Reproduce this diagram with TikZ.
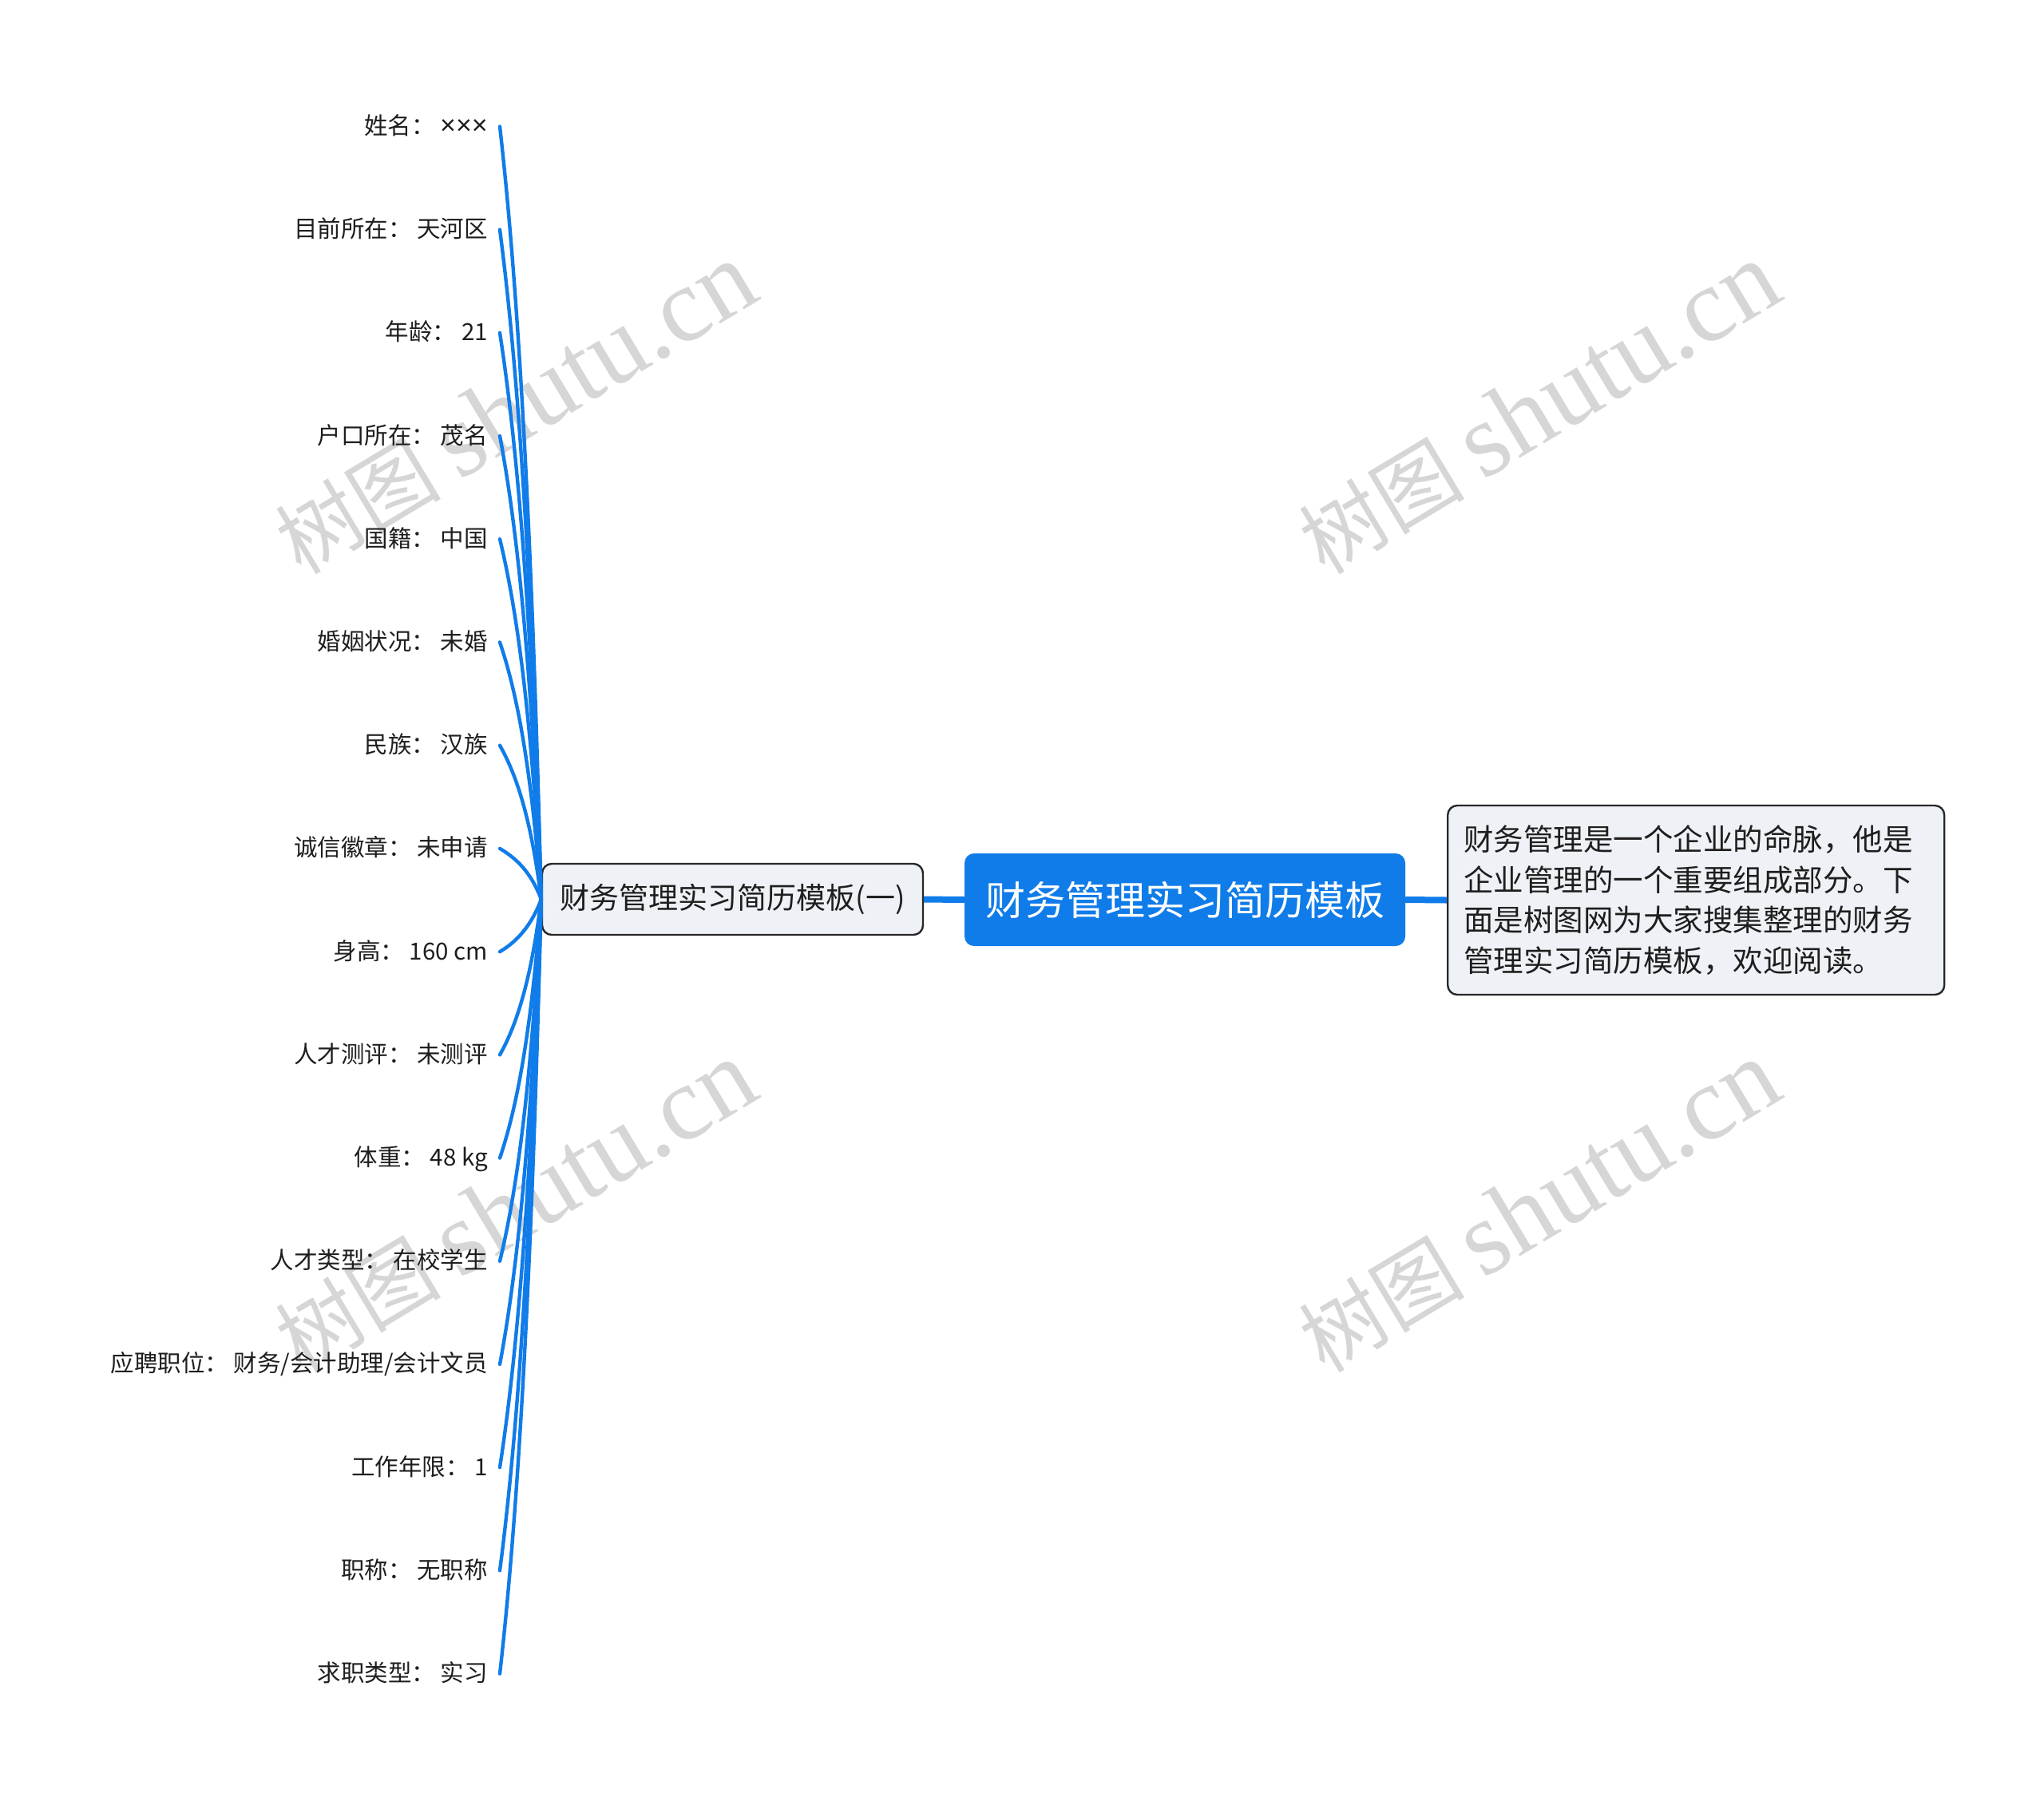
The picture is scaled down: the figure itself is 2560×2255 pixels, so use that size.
\documentclass[tikz,border=0pt]{standalone}
\usepackage{fontspec}
\setmainfont{Noto Sans CJK SC}
\newfontfamily\wmserif{Liberation Serif}
\newfontfamily\latsans{Liberation Sans}
\usetikzlibrary{calc}
\definecolor{xblue}{RGB}{16,124,233}
\definecolor{xfill}{RGB}{238,241,245}
\definecolor{xborder}{RGB}{40,40,40}
\definecolor{xtext}{RGB}{30,30,30}
\definecolor{wm}{RGB}{214,214,214}
\begin{document}
\begin{tikzpicture}[x=1pt,y=-1pt,
  leaf/.style={anchor=base east, inner sep=0pt, text=xtext, font=\fontsize{29.5}{34}\selectfont},
  leafline/.style={draw=xblue, line width=4.4pt, line cap=round},
  mainline/.style={draw=xblue, line width=8pt},
  subbox/.style={draw=xborder, line width=2.4pt, fill=xfill, rounded corners=12pt, text=xtext},
  rootbox/.style={fill=xblue, rounded corners=12pt, text=white, inner sep=0pt},
  wmark/.style={text=wm, rotate=31, inner sep=0pt, font=\fontsize{104}{130}\selectfont}
]
\useasboundingbox[fill=white] (0,0) rectangle (2560,2255);

% watermarks
\node[wmark] (w1) at (645,512) {树图 {\wmserif\fontsize{132}{140}\selectfont shutu.cn}};
\node[wmark] (w2) at (1927,512) {树图 {\wmserif\fontsize{132}{140}\selectfont shutu.cn}};
\node[wmark] (w3) at (645,1512) {树图 {\wmserif\fontsize{132}{140}\selectfont shutu.cn}};
\node[wmark] (w4) at (1927,1512) {树图 {\wmserif\fontsize{132}{140}\selectfont shutu.cn}};

% main nodes
\node[rootbox, minimum width=552pt, minimum height=116pt, font=\fontsize{50}{60}\selectfont] (R) at (1484,1127) {财务管理实习简历模板};
\node[subbox, minimum width=477pt, minimum height=89pt, inner sep=0pt, font=\fontsize{37}{44}\selectfont] (L) at (917.5,1126.5) {财务管理实习简历模板(一)};
\node[subbox, anchor=west, minimum width=622pt, minimum height=237pt, inner xsep=20pt, inner ysep=0pt, text width=582pt, align=left, font=\fontsize{37.5}{50.6}\selectfont] (D) at (1812,1127.5) {财务管理是一个企业的命脉，他是\\企业管理的一个重要组成部分。下\\面是树图网为大家搜集整理的财务\\管理实习简历模板，欢迎阅读。};

\draw[mainline] (L.east) -- (R.west);
\draw[mainline] (R.east) -- (D.west);

% leaves
\foreach \t [count=\i] in {姓名： {\latsans\fontsize{34}{34}\selectfont ×××}, 目前所在： 天河区, 年龄： 21, 户口所在： 茂名, 国籍： 中国, 婚姻状况： 未婚, 民族： 汉族, 诚信徽章： 未申请, 身高： 160 cm, 人才测评： 未测评, 体重： 48 kg, 人才类型： 在校学生, 应聘职位： 财务/会计助理/会计文员, 工作年限： 1, 职称： 无职称, 求职类型： 实习}{
  \pgfmathsetmacro{\yy}{1127.5+(\i-8.5)*129.2}
  \pgfmathsetmacro{\dy}{1127.5-\yy}
  \pgfmathsetmacro{\ca}{0.2*\dy}
  \pgfmathsetmacro{\cb}{0-0.5*\dy}
  \node[leaf] (n\i) at (611,\yy+10) {\t};
  \coordinate (c\i) at (626,\yy);
  \draw[leafline] (c\i) .. controls +(22,\ca) and +(-12,\cb) .. (L.west);
}
\end{tikzpicture}
\end{document}
